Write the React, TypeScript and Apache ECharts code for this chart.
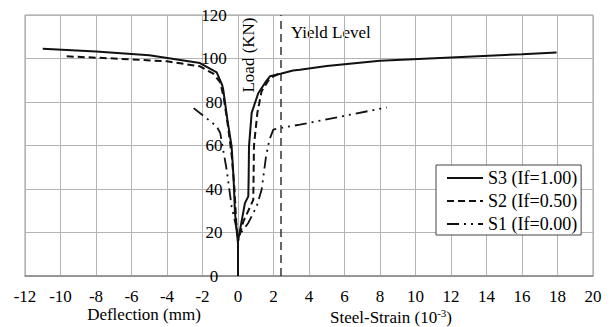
import React, { useEffect, useRef } from "react";
import * as echarts from "echarts";

// Tick labels
const xTicks = [-12, -10, -8, -6, -4, -2, 0, 2, 4, 6, 8, 10, 12, 14, 16, 18, 20];
const yTicks = [0, 20, 40, 60, 80, 100, 120];

// Series (x: deflection (mm) for negative side, steel strain (1e-3) for positive side; y: load kN)
const s3Data: [number, number][] = [
  [-11.0, 104.5], [-8, 103.2], [-5, 101.5], [-2.14, 97.9], [-1.2, 93.6], [-0.9, 88],
  [-0.83, 85.6], [-0.6, 72], [-0.36, 59.6], [-0.25, 45], [-0.17, 29], [-0.04, 18.2],
  [0, 15], [0, 0],
  [0, 16], [0.2, 25], [0.39, 33.5], [0.58, 36.6], [0.6, 45], [0.62, 59.6], [0.77, 75],
  [1.14, 84], [1.58, 89.5], [1.8, 91.8], [2.4, 93], [3.1, 94.5], [3.49, 94.8], [5, 96.5],
  [8.0, 99], [12, 100.5], [16, 102], [17.95, 102.8],
];
const s2Data: [number, number][] = [
  [-9.65, 101], [-7, 100], [-4.0, 98.7], [-2.14, 96.4], [-1.39, 93], [-1.0, 89],
  [-0.8, 82], [-0.55, 68], [-0.35, 55], [-0.2, 40], [-0.1, 25], [0, 16], [0, 0],
  [0, 16], [0.3, 25], [0.86, 35], [0.9, 60], [1.09, 75], [1.33, 85], [1.8, 91], [2.3, 93],
];
const s1Data: [number, number][] = [
  [-2.5, 77.2], [-1.2, 68.8], [-1.0, 65.7], [-0.64, 48.9], [-0.36, 32], [-0.07, 21.3],
  [0, 18], [0.58, 24.4], [1.05, 32], [1.33, 39.7], [1.58, 55], [1.77, 62.7],
  [1.99, 67.3], [2.37, 68], [3.49, 69.6], [8.38, 77.5],
];
const yieldLevel = 2.42;

const seriesNames = ["S3 (If=1.00)", "S2 (If=0.50)", "S1 (If=0.00)"];

const FONT = "Liberation Serif";

export default function App() {
  const ref = useRef<HTMLDivElement>(null);
  useEffect(() => {
    if (!ref.current) return;
    const chart = echarts.init(ref.current, undefined, { renderer: "svg" });
    const grey = "#b4b4b4";
    const gridLeft = 25, gridRight = 23;
    const plotW = 616 - gridLeft - gridRight;
    const xMin = xTicks[0], xMax = xTicks[xTicks.length - 1];
    // y axis sits at x = 0 of the x scale
    const yAxisOffset = -((0 - xMin) / (xMax - xMin)) * plotW;
    chart.setOption({
      animation: false,
      backgroundColor: "#fff",
      textStyle: { fontFamily: FONT },
      grid: {
        left: gridLeft, right: gridRight, top: 15, bottom: 51,
        containLabel: false, outerBoundsMode: "none",
        show: true, borderColor: "#999", borderWidth: 1,
      },
      xAxis: {
        type: "value",
        min: xMin, max: xMax, interval: 2,
        axisLine: { show: true, lineStyle: { color: "#888", width: 1.5 } },
        axisTick: { show: false },
        splitLine: { show: true, lineStyle: { color: grey, width: 1 } },
        axisLabel: { color: "#000", fontSize: 17, fontFamily: FONT, margin: 12 },
      },
      yAxis: {
        type: "value",
        position: "left",
        offset: yAxisOffset,
        min: yTicks[0], max: yTicks[yTicks.length - 1], interval: 20,
        axisLine: { show: true, onZero: false, lineStyle: { color: grey, width: 1 } },
        axisTick: { show: false },
        splitLine: { show: true, lineStyle: { color: grey, width: 1 } },
        axisLabel: { color: "#000", fontSize: 17, fontFamily: FONT, margin: 24, align: "center" },
      },
      legend: {
        orient: "vertical",
        left: 436, top: 165,
        padding: [4, 4, 2, 10],
        itemWidth: 36, itemHeight: 14, itemGap: 5,
        backgroundColor: "#fff",
        borderColor: "#444", borderWidth: 1, borderRadius: 0,
        itemStyle: { color: "transparent", borderWidth: 0, opacity: 0 },
        textStyle: { color: "#000", fontSize: 18, fontFamily: FONT },
        data: seriesNames,
      },
      series: [
        {
          name: seriesNames[0], type: "line", data: s3Data, symbol: "none", z: 5,
          lineStyle: { color: "#111", width: 2, type: "solid" }, itemStyle: { color: "#111" },
        },
        {
          name: seriesNames[1], type: "line", data: s2Data, symbol: "none", z: 4,
          lineStyle: { color: "#111", width: 2, type: [7, 4] }, itemStyle: { color: "#111" },
        },
        {
          name: seriesNames[2], type: "line", data: s1Data, symbol: "none", z: 3,
          lineStyle: { color: "#111", width: 1.8, type: [12, 5, 2, 5, 2, 5] }, itemStyle: { color: "#111" },
          markLine: {
            silent: true, symbol: "none", label: { show: false },
            lineStyle: { color: "#333", width: 1.5, type: [8, 5] },
            data: [{ xAxis: yieldLevel }],
          },
        },
      ],
      graphic: [
        {
          type: "text", x: 248, y: 55, rotation: Math.PI / 2,
          style: { text: "Load (KN)", fontSize: 17, fontFamily: FONT, fill: "#000", align: "center", verticalAlign: "middle" },
        },
        {
          type: "text", x: 291, y: 32,
          style: { text: "Yield Level", fontSize: 17, fontFamily: FONT, fill: "#000", align: "left", verticalAlign: "middle" },
        },
        {
          type: "text", x: 144, y: 314,
          style: { text: "Deflection (mm)", fontSize: 17, fontFamily: FONT, fill: "#000", align: "center", verticalAlign: "middle" },
        },
        {
          type: "text", x: 391, y: 317,
          style: {
            text: "{n|Steel-Strain (10}{s|-3}{n|)}",
            fontFamily: FONT, fill: "#000", align: "center", verticalAlign: "middle",
            rich: {
              n: { fontSize: 17, fontFamily: FONT, fill: "#000", lineHeight: 20 },
              s: { fontSize: 11, fontFamily: FONT, fill: "#000", verticalAlign: "top", lineHeight: 20, padding: [0, 0, 8, 0] },
            },
          },
        },
      ],
    });
    return () => chart.dispose();
  }, []);
  return <div ref={ref} style={{ position: "fixed", left: 0, top: 0, width: 616, height: 327 }} />;
}
